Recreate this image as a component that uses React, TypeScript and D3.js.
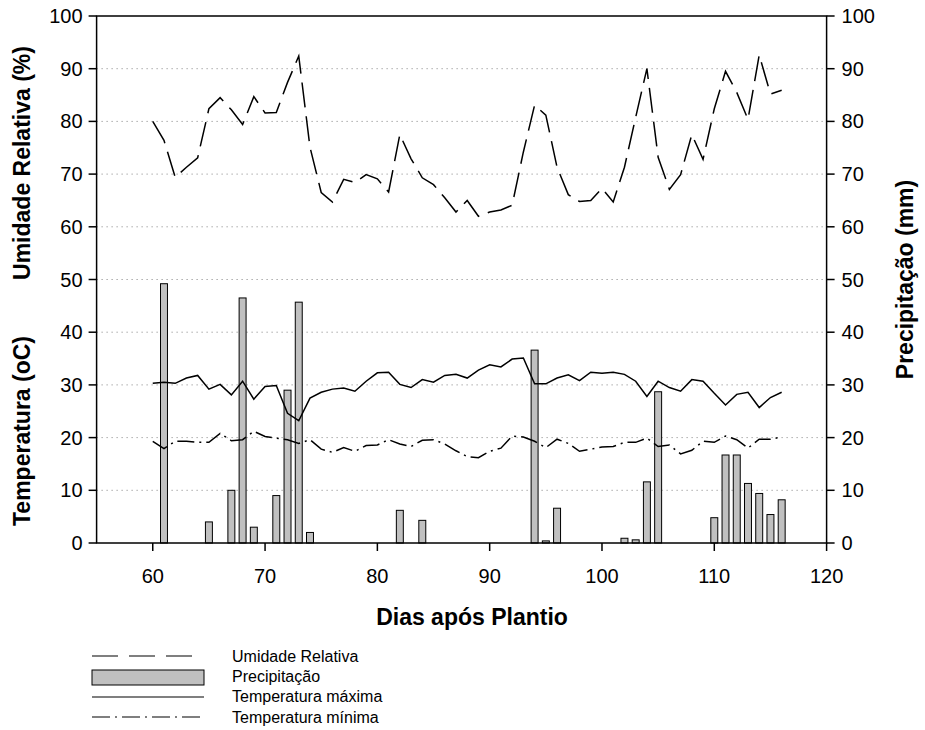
import React from "react";
import * as d3 from "d3";

const days = d3.range(60, 117);
const humidity = [
  80.0, 76.4, 69.4, 71.3, 73.1, 82.4, 84.5, 82.2, 79.4, 84.7,
  81.6, 81.7, 87.4, 92.4, 75.1, 66.5, 64.7, 69.0, 68.4, 69.9,
  69.1, 66.6, 77.5, 72.9, 69.3, 68.0, 65.5, 62.8, 65.0, 62.0,
  62.8, 63.2, 64.1, 74.2, 83.1, 81.2, 71.3, 66.1, 64.8, 65.0,
  67.3, 64.7, 71.3, 80.8, 90.0, 73.2, 67.1, 69.9, 77.5, 72.8,
  82.4, 89.5, 85.5, 80.4, 92.6, 85.2, 85.9,
];
const tempMax = [
  30.3, 30.5, 30.3, 31.3, 31.8, 29.2, 30.1, 28.1, 30.7, 27.3,
  29.7, 29.9, 24.6, 23.2, 27.5, 28.6, 29.2, 29.4, 28.8, 30.7,
  32.3, 32.4, 30.1, 29.5, 31.0, 30.5, 31.8, 32.0, 31.3, 32.8,
  33.8, 33.4, 34.9, 35.1, 30.2, 30.2, 31.3, 31.9, 30.8, 32.4,
  32.2, 32.4, 32.0, 30.7, 27.8, 30.7, 29.5, 28.8, 31.0, 30.7,
  28.4, 26.2, 28.2, 28.6, 25.7, 27.6, 28.6,
];
const tempMin = [
  19.3, 17.9, 19.3, 19.3, 19.1, 19.1, 20.8, 19.4, 19.6, 21.2,
  20.2, 19.9, 19.6, 18.9, 19.6, 17.8, 17.2, 18.1, 17.4, 18.5,
  18.6, 19.6, 18.8, 18.3, 19.5, 19.6, 18.8, 17.5, 16.4, 16.2,
  17.4, 18.0, 20.3, 20.1, 19.3, 18.1, 19.7, 18.9, 17.4, 17.8,
  18.2, 18.3, 19.1, 19.1, 19.9, 18.3, 18.6, 16.9, 17.6, 19.3,
  19.1, 20.3, 19.6, 18.0, 19.7, 19.7, 20.1,
];
const rainDays = [61, 65, 67, 68, 69, 71, 72, 73, 74, 82, 84, 94, 95, 96, 102, 103, 104, 105, 110, 111, 112, 113, 114, 115, 116];
const rainValues = [49.2, 4, 10, 46.5, 3, 9, 29, 45.7, 2, 6.2, 4.3, 36.6, 0.4, 6.6, 0.9, 0.6, 11.6, 28.7, 4.8, 16.7, 16.7, 11.3, 9.4, 5.4, 8.2];
const xTicks = [60, 70, 80, 90, 100, 110, 120];
const yTicks = [0, 10, 20, 30, 40, 50, 60, 70, 80, 90, 100];
const gridTicks = [10, 20, 30, 40, 50, 60, 70, 80, 90];
const legendLabels = ["Umidade Relativa", "Precipitação", "Temperatura máxima", "Temperatura mínima"];

const W = 925, H = 730;
const L = 96.6, R = 826.6, T = 16, B = 543;
const FONT = "Arial, 'Liberation Sans', sans-serif";

export default function App() {
  const x = d3.scaleLinear().domain([55, 120]).range([L, R]);
  const yL = d3.scaleLinear().domain([0, 100]).range([B, T]);
  const yR = d3.scaleLinear().domain([0, 100]).range([B, T]);
  const barW = x(60.62) - x(60);

  const mk = (vals: number[]) =>
    d3.line<number>().x((_, i) => x(days[i])).y((v) => yL(v))(vals) || "";

  const tickFs = 20;
  const titleFs = 23;
  return (
    <div style={{ position: "absolute", left: 0, top: 0 }}>
      <svg width={W} height={H} style={{ display: "block", background: "#fff" }} fontFamily={FONT}>
        {gridTicks.map((t) => (
          <line key={"g" + t} x1={L} x2={R} y1={yL(t)} y2={yL(t)} stroke="#808080" strokeWidth={1} strokeDasharray="1,4" />
        ))}
        <path d={mk(humidity)} fill="none" stroke="#000" strokeWidth={1.5} strokeDasharray="25,9" />
        {rainDays.map((d, i) => (
          <rect key={"b" + d} x={x(d) - barW / 2} y={yR(rainValues[i])} width={barW} height={B - yR(rainValues[i])}
            fill="#c0c0c0" stroke="#000" strokeWidth={1} />
        ))}
        <path d={mk(tempMax)} fill="none" stroke="#000" strokeWidth={1.5} />
        <path d={mk(tempMin)} fill="none" stroke="#000" strokeWidth={1.5} strokeDasharray="17,5,2,5" />
        <rect x={L} y={T} width={R - L} height={B - T} fill="none" stroke="#000" strokeWidth={1.5} />
        {yTicks.map((t) => (
          <g key={"yl" + t}>
            <line x1={L - 8} x2={L} y1={yL(t)} y2={yL(t)} stroke="#000" strokeWidth={1.5} />
            <text x={L - 14} y={yL(t)} dy="0.35em" textAnchor="end" fontSize={tickFs}>{t}</text>
            <line x1={R} x2={R + 8} y1={yR(t)} y2={yR(t)} stroke="#000" strokeWidth={1.5} />
            <text x={R + 15} y={yR(t)} dy="0.35em" textAnchor="start" fontSize={tickFs}>{t}</text>
          </g>
        ))}
        {xTicks.map((t) => (
          <g key={"x" + t}>
            <line x1={x(t)} x2={x(t)} y1={B} y2={B + 8} stroke="#000" strokeWidth={1.5} />
            <text x={x(t)} y={B + 33} dy="0.35em" textAnchor="middle" fontSize={tickFs}>{t}</text>
          </g>
        ))}
        <text x={472} y={617} dy="0.35em" textAnchor="middle" fontSize={titleFs} fontWeight="bold">Dias após Plantio</text>
        <text transform={`translate(22,${163}) rotate(-90)`} dy="0.35em" textAnchor="middle" fontSize={titleFs} fontWeight="bold">Umidade Relativa (%)</text>
        <text transform={`translate(22,${431}) rotate(-90)`} dy="0.35em" textAnchor="middle" fontSize={titleFs} fontWeight="bold">Temperatura (oC)</text>
        <text transform={`translate(905,${(T + B) / 2}) rotate(-90)`} dy="0.35em" textAnchor="middle" fontSize={titleFs} fontWeight="bold">Precipitação (mm)</text>
        <line x1={92} x2={193} y1={656} y2={656} stroke="#000" strokeWidth={1.2} strokeDasharray="26,11" />
        <rect x={92} y={670} width={112} height={15} fill="#c0c0c0" stroke="#000" strokeWidth={1} />
        <line x1={92} x2={204} y1={697} y2={697} stroke="#000" strokeWidth={1.2} />
        <line x1={92} x2={202} y1={717} y2={717} stroke="#000" strokeWidth={1.2} strokeDasharray="18,5,2,5" />
        {legendLabels.map((s, i) => (
          <text key={s} x={232} y={656 + i * 20.3} dy="0.35em" fontSize={16}>{s}</text>
        ))}
      </svg>
    </div>
  );
}
